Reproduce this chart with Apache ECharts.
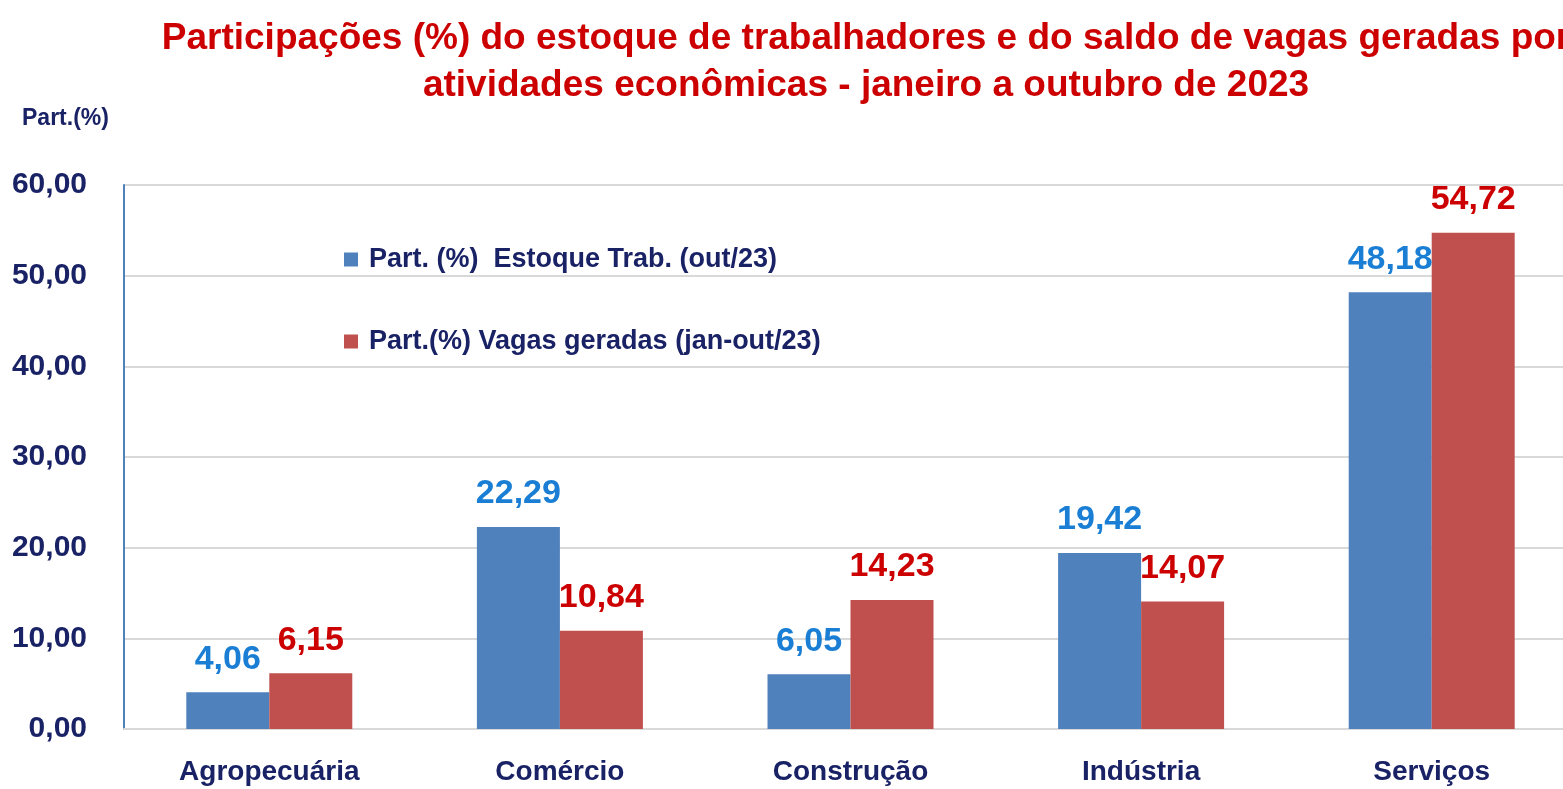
<!DOCTYPE html>
<html>
<head>
<meta charset="utf-8" />
<title>Participações por atividades econômicas</title>
<script src="https://cdn.jsdelivr.net/npm/echarts@6/dist/echarts.min.js"></script>
<style>
  html, body { margin: 0; padding: 0; background: #fff; }
  #chart { width: 1563px; height: 789px; }
</style>
</head>
<body>
<div id="chart"></div>
<script>
// dados
var categorias = ['Agropecuária', 'Comércio', 'Construção', 'Indústria', 'Serviços'];
var estoque = [4.06, 22.29, 6.05, 19.42, 48.18];
var vagas = [6.15, 10.84, 14.23, 14.07, 54.72];
var nomeEstoque = 'Part. (%)  Estoque Trab. (out/23)';
var nomeVagas = 'Part.(%) Vagas geradas (jan-out/23)';

var fonte = '"Liberation Sans", Arial, sans-serif';
var azulEscuro = '#1a2266';

function virgula(v) {
  return Number(v).toFixed(2).replace('.', ',');
}

var chart = echarts.init(document.getElementById('chart'));

chart.setOption({
  animation: false,
  title: [{
    text: 'Participações (%) do estoque de trabalhadores e do saldo de vagas geradas por\natividades econômicas - janeiro a outubro de 2023',
    left: 861,
    top: 10,
    textAlign: 'center',
    textStyle: {
      color: '#cc0000',
      fontFamily: fonte,
      fontWeight: 'bold',
      fontSize: 37,
      lineHeight: 47
    }
  }, {
    text: 'Part.(%)',
    left: 17,
    top: 102,
    textStyle: { color: azulEscuro, fontFamily: fonte, fontWeight: 'bold', fontSize: 23 }
  }],
  legend: {
    orient: 'vertical',
    left: 339,
    top: 241,
    itemWidth: 14,
    itemHeight: 14,
    itemGap: 55,
    icon: 'rect',
    data: [nomeEstoque, nomeVagas],
    textStyle: {
      color: azulEscuro,
      fontFamily: fonte,
      fontWeight: 'bold',
      fontSize: 27,
      padding: [0, 0, 0, 6]
    }
  },
  grid: {
    left: 124,
    top: 185,
    width: 1453,
    height: 544,
    outerBoundsMode: 'none'
  },
  xAxis: {
    type: 'category',
    data: categorias,
    axisTick: { show: false },
    axisLine: { lineStyle: { color: '#d9d9d9', width: 2 } },
    axisLabel: {
      margin: 29,
      color: azulEscuro,
      fontFamily: fonte,
      fontWeight: 'bold',
      fontSize: 28
    }
  },
  yAxis: {
    type: 'value',
    min: 0,
    max: 60,
    interval: 10,
    axisLine: { show: true, lineStyle: { color: '#4f81bd', width: 2 } },
    axisTick: { show: false },
    splitLine: { lineStyle: { color: '#d9d9d9', width: 2 } },
    axisLabel: {
      margin: 37,
      color: azulEscuro,
      fontFamily: fonte,
      fontWeight: 'bold',
      fontSize: 30,
      formatter: virgula
    }
  },
  series: [{
    name: nomeEstoque,
    type: 'bar',
    data: estoque,
    barWidth: 83,
    barGap: '0%',
    itemStyle: { color: '#4f81bd' },
    label: {
      show: true,
      position: 'top',
      distance: 16,
      color: '#1a7fd4',
      fontFamily: fonte,
      fontWeight: 'bold',
      fontSize: 34,
      formatter: function (p) { return virgula(p.value); }
    }
  }, {
    name: nomeVagas,
    type: 'bar',
    data: vagas,
    barWidth: 83,
    itemStyle: { color: '#c0504d' },
    label: {
      show: true,
      position: 'top',
      distance: 16,
      color: '#cc0000',
      fontFamily: fonte,
      fontWeight: 'bold',
      fontSize: 34,
      formatter: function (p) { return virgula(p.value); }
    }
  }]
});
</script>
</body>
</html>
